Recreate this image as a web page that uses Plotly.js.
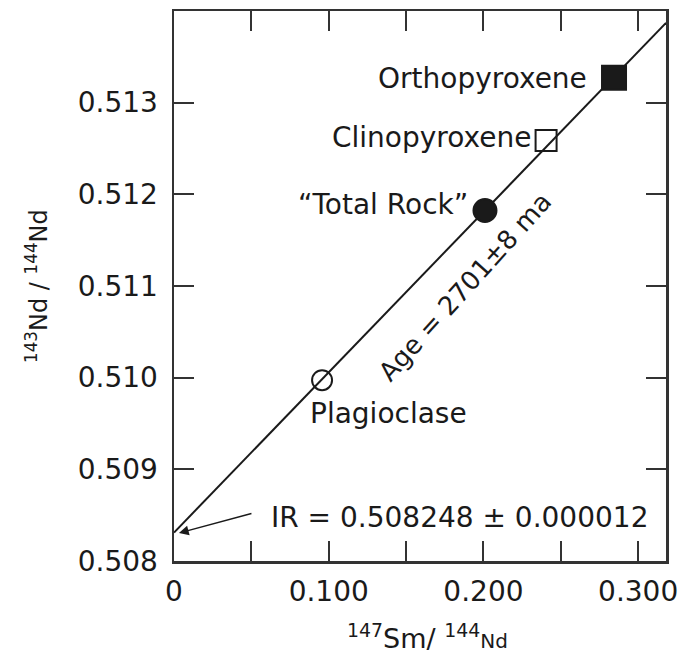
<!DOCTYPE html>
<html>
<head>
<meta charset="utf-8">
<script src="https://cdn.plot.ly/plotly-3.0.1.min.js"></script>
<style>html,body{margin:0;padding:0;background:#fff;}#chart{width:685px;height:658px;}</style>
</head>
<body>
<div id="chart"></div>
<script>
// ---- data ----
const mineralNames = ['Plagioclase', '\u201CTotal Rock\u201D', 'Clinopyroxene', 'Orthopyroxene'];
const smNd = [0.0957, 0.201, 0.2405, 0.2844];          // 147Sm/144Nd
const ndNd = [0.509972, 0.511824, 0.512586, 0.513272];  // 143Nd/144Nd
const isochronX = [0, 0.318];
const isochronY = [0.50831, 0.513871];
const xTickVals = [0, 0.05, 0.1, 0.15, 0.2, 0.25, 0.3];
const xTickText = ['0', '', '0.100', '', '0.200', '', '0.300'];
const yTickVals = [0.508, 0.509, 0.510, 0.511, 0.512, 0.513];
const yTickText = ['0.508', '0.509', '0.510', '0.511', '0.512', '0.513'];
const ageText = 'Age = 2701\u00B18 ma';
const irText = 'IR = 0.508248 \u00B1 0.000012';

const FONT = 'DejaVu Sans, Liberation Sans, Arial, sans-serif';
const INK = '#1a1a1a';

const symbols = ['circle-open', 'circle', 'square-open', 'square'];
const sizes = [20, 23, 21, 24];

const traces = [
  {x: isochronX, y: isochronY, mode: 'lines', line: {color: INK, width: 2}, hoverinfo: 'skip', showlegend: false},
  {x: smNd, y: ndNd, mode: 'markers', text: mineralNames, showlegend: false,
   marker: {symbol: symbols, size: sizes, opacity: 1, color: INK, line: {color: INK, width: 2}}}
];

// label placement styling (per point)
const labelStyle = [
  {xanchor: 'left', xshift: -14, yshift: -33},
  {xanchor: 'right', xshift: -15, yshift: 6},
  {xanchor: 'right', xshift: -13, yshift: 3},
  {xanchor: 'right', xshift: -25, yshift: -1}
];
const annotations = mineralNames.map((n, i) => ({
  x: smNd[i], y: ndNd[i], xref: 'x', yref: 'y', text: n, showarrow: false,
  xanchor: labelStyle[i].xanchor, yanchor: 'middle',
  xshift: labelStyle[i].xshift, yshift: labelStyle[i].yshift,
  font: {family: FONT, size: 28, color: INK}
}));

annotations.push({
  x: 0.1881, y: 0.510985, xref: 'x', yref: 'y', text: ageText, showarrow: false,
  textangle: -48, font: {family: FONT, size: 26, color: INK}
});
annotations.push({
  x: 0.0614, y: 0.508479, xref: 'x', yref: 'y', text: irText, showarrow: false,
  xanchor: 'left', yanchor: 'middle', font: {family: FONT, size: 28, color: INK}
});
annotations.push({
  x: 0.0032, y: isochronY[0] - 0.000005, xref: 'x', yref: 'y', text: '',
  showarrow: true, ax: 74, ay: -20, arrowhead: 2, arrowsize: 1.3, arrowwidth: 1.5, arrowcolor: INK
});
annotations.push({
  x: 0.5, y: 0, xref: 'paper', yref: 'paper', xshift: 7, yshift: -75,
  text: '<sup>147</sup>Sm/ <sup>144</sup><span style="font-size:20px">Nd</span>',
  showarrow: false, xanchor: 'center', yanchor: 'middle',
  font: {family: FONT, size: 27, color: INK}
});
annotations.push({
  x: 0, y: 0.5, xref: 'paper', yref: 'paper', xshift: -137, yshift: 0,
  text: '<sup>143</sup>Nd / <sup>144</sup>Nd', textangle: -90,
  showarrow: false, xanchor: 'center', yanchor: 'middle',
  font: {family: FONT, size: 24, color: INK}
});

const axisCommon = {
  showgrid: false, zeroline: false, showline: true, linecolor: '#333', linewidth: 2.5,
  mirror: 'ticks', ticks: 'inside', ticklen: 20, tickwidth: 2, tickcolor: '#333',
  tickfont: {family: FONT, size: 28, color: INK}, tickmode: 'array'
};

const layout = {
  width: 685, height: 658,
  margin: {l: 174, r: 19, t: 11, b: 97, pad: 0},
  paper_bgcolor: '#fff', plot_bgcolor: '#fff',
  showlegend: false,
  xaxis: Object.assign({}, axisCommon, {range: [0, 0.318], tickvals: xTickVals, ticktext: xTickText, ticklabelstandoff: 4}),
  yaxis: Object.assign({}, axisCommon, {range: [0.508, 0.514], tickvals: yTickVals, ticktext: yTickText, ticklabelstandoff: 8}),
  annotations: annotations
};

Plotly.newPlot('chart', traces, layout, {displayModeBar: false, staticPlot: true});
</script>
</body>
</html>
